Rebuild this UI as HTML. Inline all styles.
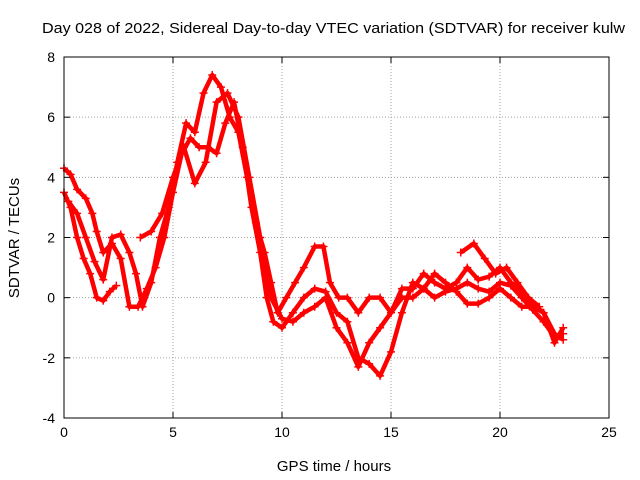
<!DOCTYPE html>
<html><head><meta charset="utf-8"><style>
html,body{margin:0;padding:0;background:#fff;}
svg{display:block;font-family:"Liberation Sans",sans-serif;}
</style></head><body>
<svg id="chart" width="640" height="480">
<text x="42" y="33" font-size="15" textLength="583" lengthAdjust="spacingAndGlyphs">Day 028 of 2022, Sidereal Day-to-day VTEC variation (SDTVAR) for receiver kulw</text>
<text x="334" y="471" text-anchor="middle" font-size="15">GPS time / hours</text>
<text transform="translate(19,238) rotate(-90)" text-anchor="middle" font-size="15">SDTVAR / TECUs</text>
<g id="grid"></g><g id="series"></g><g id="axes"></g>
</svg>
<script>
const xTicks=[0,5,10,15,20,25];
const yTicks=[-4,-2,0,2,4,6,8];
const track1=[[0,3.5],[0.3,3.0],[0.6,2.0],[0.9,1.3],[1.2,0.8],[1.5,0.0],[1.8,-0.1],[2.1,0.2],[2.4,0.4]];
const track2=[[0,4.3],[0.3,4.1],[0.6,3.6],[1.0,3.3],[1.3,2.8],[1.5,2.2],[1.8,1.5],[2.2,1.8],[2.6,1.3],[3.0,-0.3],[3.4,-0.3],[3.8,0.3],[4.2,1.0],[4.6,2.0],[5.0,3.5],[5.4,4.8],[5.8,5.3],[6.2,5.0],[6.6,5.0],[7.0,4.8],[7.4,5.8],[7.8,6.5],[8.2,5.0],[8.6,3.0],[9.0,1.5],[9.3,0.0],[9.6,-0.8],[10.0,-1.0],[10.5,-0.5],[11.0,0.0],[11.5,0.3],[12,0.2],[12.5,-0.5],[13,-0.8],[13.5,-2.0],[14,-2.2],[14.5,-2.6],[15,-1.8],[15.5,-0.5],[16,0.5],[16.5,0.3],[17,0.0],[17.5,0.2],[18,0.3],[18.5,0.5],[19,0.3],[19.5,0.2],[20,0.5],[20.5,0.4],[21,0.0],[21.5,-0.4],[22,-0.8],[22.5,-1.3],[22.9,-1.2]];
const track3=[[0.2,3.2],[0.6,2.8],[1.0,2.0],[1.4,1.2],[1.8,0.6],[2.2,2.0],[2.6,2.1],[3.0,1.5],[3.3,0.8],[3.6,-0.3],[4.0,0.5],[4.4,2.0],[4.8,3.0],[5.2,4.5],[5.6,5.8],[6.0,5.5],[6.4,6.8],[6.8,7.4],[7.2,7.0],[7.6,6.0],[8.0,5.5],[8.4,4.0],[8.8,2.5],[9.2,1.5],[9.5,0.5],[9.8,-0.5],[10.2,0.0],[10.6,0.5],[11,1.0],[11.5,1.7],[11.9,1.7],[12.2,0.5],[12.6,0.0],[13,0.0],[13.5,-0.5],[14,0.0],[14.5,0.0],[15,-0.5],[15.5,0.3],[16,0.3],[16.5,0.8],[17,0.5],[17.5,0.3],[18,0.5],[18.5,1.0],[19,0.6],[19.5,0.7],[20,1.0],[20.5,0.5],[21,0.2],[21.5,-0.2],[22,-0.5],[22.5,-1.5],[22.9,-1.0]];
const track4=[[3.5,2.0],[4.0,2.2],[4.5,2.8],[5.0,4.0],[5.5,5.0],[6.0,3.8],[6.5,4.5],[7.0,6.5],[7.5,6.8],[8.0,6.0],[8.5,4.0],[9.0,2.0],[9.5,0.0],[10.0,-0.7],[10.5,-0.8],[11,-0.5],[11.5,-0.3],[12,0.0],[12.5,-1.0],[13,-1.5],[13.5,-2.3],[14,-1.5],[14.5,-1.0],[15,-0.5],[15.5,0.0],[16,0.0],[16.5,0.3],[17,0.8],[17.5,0.5],[18,0.2],[18.5,-0.2],[19,-0.2],[19.5,0.0],[20,0.3],[20.5,0.0],[21,-0.3],[21.5,-0.3],[22,-0.5],[22.5,-1.2],[22.9,-1.4]];
const track5=[[18.2,1.5],[18.8,1.8],[19.3,1.3],[19.8,0.8],[20.3,1.0],[20.8,0.5],[21.3,0.0],[21.8,-0.3]];
const tracks=[track1,track2,track3,track4,track5];

const NS="http://www.w3.org/2000/svg";
const L=64,R=609,T=57,B=418,xmin=0,xmax=25,ymin=-4,ymax=8;
const sx=v=>L+(v-xmin)/(xmax-xmin)*(R-L);
const sy=v=>B-(v-ymin)/(ymax-ymin)*(B-T);
function mk(tag,attrs,parent){const e=document.createElementNS(NS,tag);for(const k in attrs)e.setAttribute(k,attrs[k]);parent.appendChild(e);return e;}
const grid=document.getElementById('grid'),axes=document.getElementById('axes'),ser=document.getElementById('series');
xTicks.forEach(t=>{
  const x=sx(t);
  if(t>xmin&&t<xmax){const g=mk('line',{x1:x,x2:x,y1:T,y2:B,stroke:'#a0a0a0','stroke-dasharray':'1,2'},grid);
  
  }
  mk('line',{x1:x,x2:x,y1:B,y2:B-6,stroke:'#000'},axes);
  mk('line',{x1:x,x2:x,y1:T,y2:T+6,stroke:'#000'},axes);
  const lb=mk('text',{x:x,y:B+19,'text-anchor':'middle','font-size':'14'},axes);lb.textContent=t;
  
  
});
yTicks.forEach(t=>{
  const y=sy(t);
  if(t>ymin&&t<ymax){const g=mk('line',{x1:L,x2:R,y1:y,y2:y,stroke:'#a0a0a0','stroke-dasharray':'1,2'},grid);
  
  }
  mk('line',{x1:L,x2:L+6,y1:y,y2:y,stroke:'#000'},axes);
  mk('line',{x1:R,x2:R-6,y1:y,y2:y,stroke:'#000'},axes);
  const lb=mk('text',{x:L-9,y:y+5,'text-anchor':'end','font-size':'14'},axes);lb.textContent=t;
  
  
});
const frame=mk('rect',{x:L,y:T,width:R-L,height:B-T,fill:'none',stroke:'#000'},axes);


tracks.forEach((tr,i)=>{
  const g=mk('g',{},ser);
  
  
  mk('polyline',{points:tr.map(p=>sx(p[0])+','+sy(p[1])).join(' '),fill:'none',stroke:'#ff0000','stroke-width':'4.5','stroke-linejoin':'round'},g);
  tr.forEach(p=>{
    const x=sx(p[0]),y=sy(p[1]);
    const m=mk('path',{d:`M${x-4},${y}h8M${x},${y-4}v8`,stroke:'#ff0000','stroke-width':'1.5'},g);
    
    
  });
});
</script>
</body></html>
